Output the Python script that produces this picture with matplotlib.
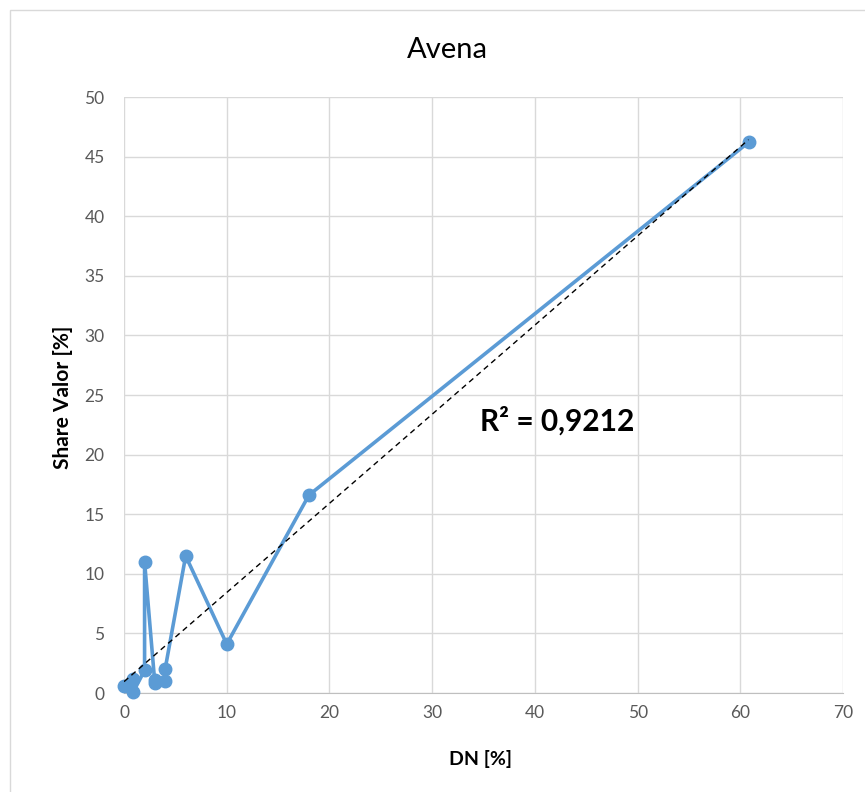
import numpy as np
import matplotlib.pyplot as plt
from matplotlib.patches import Rectangle

# Datos
dn = [0.0, 0.9, 0.9, 2.0, 2.0, 3.0, 3.0, 4.0, 4.0, 6.0, 10.0, 18.0, 60.8]
share = [0.6, 1.2, 0.1, 1.9, 11.0, 0.8, 1.1, 1.0, 2.0, 11.5, 4.1, 16.6, 46.2]
xticks = [0, 10, 20, 30, 40, 50, 60, 70]
yticks = [0, 5, 10, 15, 20, 25, 30, 35, 40, 45, 50]

blue = "#5B9BD5"
plt.rcParams["font.family"] = ["Lato", "DejaVu Sans"]

fig = plt.figure(figsize=(8.65, 7.92), dpi=100)
fig.patches.append(Rectangle((0.012, -0.01), 1.0, 0.998, transform=fig.transFigure,
                             fill=False, edgecolor="#d9d9d9", lw=1))
ax = fig.add_axes([0.1434, 0.125, 0.8312, 0.7525])

ax.plot(dn, share, color=blue, lw=2.6, marker="o", markersize=9, zorder=3, clip_on=False)

# línea de tendencia lineal
m, b = np.polyfit(dn, share, 1)
xt = np.array([min(dn), max(dn)])
ax.plot(xt, m * xt + b, color="black", lw=1, ls=(0, (4, 3)), zorder=4)
ax.text(34.7, 22.8, "R² = 0,9212", fontsize=21.5, fontweight="bold", va="center")

ax.set_xlim(0, 70)
ax.set_ylim(0, 50)
ax.set_xticks(xticks)
ax.set_yticks(yticks)
ax.grid(True, color="#d9d9d9", lw=1)
ax.set_axisbelow(True)
for s in ["top", "right", "left"]:
    ax.spines[s].set_visible(False)
ax.spines["bottom"].set_color("#bfbfbf")
ax.tick_params(length=0, labelsize=12.5, colors="#595959")
ax.tick_params(axis="y", pad=14)
ax.tick_params(axis="x", pad=9)

fig.text(0.517, 0.937, "Avena", fontsize=21, ha="center", va="center")
fig.text(0.556, 0.0417, "DN [%]", fontsize=14, fontweight="bold", ha="center", va="center")
fig.text(0.0728, 0.4987, "Share Valor [%]", fontsize=15, fontweight="bold",
         ha="center", va="center", rotation=90)

fig.savefig("out.png", dpi=100)
